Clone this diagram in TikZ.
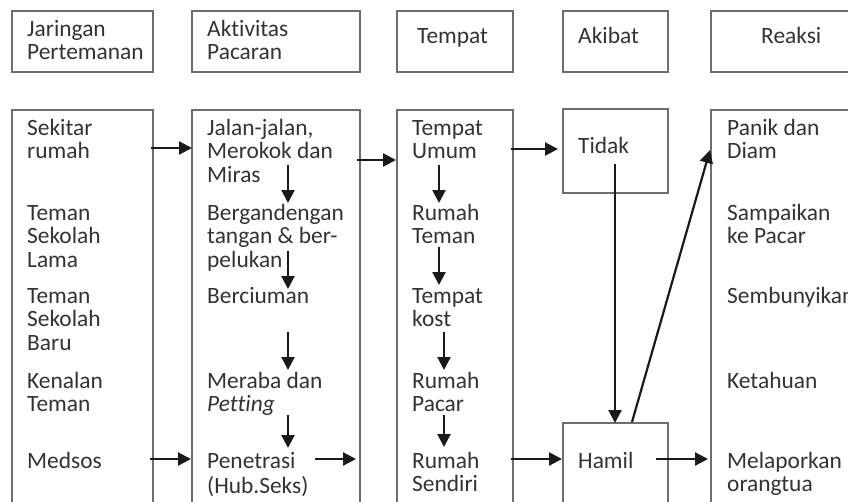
\documentclass[tikz,border=0pt]{standalone}
\usepackage{fontspec}
\setmainfont[Ligatures=NoCommon]{Carlito}
\usetikzlibrary{arrows.meta}
\newcommand\lbl{\fontsize{23.4}{23.5}\selectfont}
\definecolor{txtc}{HTML}{333333}
\definecolor{boxc}{HTML}{6E6E6E}
\definecolor{arrc}{HTML}{1A1A1A}
\begin{document}
\begin{tikzpicture}[x=1pt,y=-1pt,
  box/.style={draw=boxc, line width=1.3pt, anchor=north west, inner sep=0pt, outer sep=0pt},
  txt/.style={anchor=north west, inner sep=0pt, align=left, font=\lbl, text=txtc, yshift=16.45pt},
  arr/.style={draw=arrc, line width=2.2pt, -{Triangle[length=13pt,width=13pt]}}]
\useasboundingbox (0,0) rectangle (848,501);
\fill[white] (0,0) rectangle (848,501);
\clip (0,0) rectangle (848,501);
% header boxes
\node[box, minimum width=141pt, minimum height=61pt] (h1) at (12,11) {};
\node[box, minimum width=168pt, minimum height=61pt] (h2) at (192,11) {};
\node[box, minimum width=116pt, minimum height=61pt] (h3) at (397,11) {};
\node[box, minimum width=105pt, minimum height=61pt] (h4) at (563,11) {};
\node[box, minimum width=160pt, minimum height=61pt] (h5) at (711,11) {};
% lower boxes
\node[box, minimum width=141pt, minimum height=420pt] (b1) at (12,110) {};
\node[box, minimum width=168pt, minimum height=420pt] (b2) at (192,110) {};
\node[box, minimum width=116pt, minimum height=420pt] (b3) at (397,110) {};
\node[box, minimum width=105pt, minimum height=84pt] (tidakbox) at (563,109) {};
\node[box, minimum width=105pt, minimum height=100pt] (hamilbox) at (563,423) {};
\node[box, minimum width=160pt, minimum height=420pt] (b5) at (711,110) {};
% header texts
\node[txt] (ht1) at (27,36) {\strut Jaringan\\Pertemanan};
\node[txt] (ht2) at (207,36) {\strut Aktivitas\\Pacaran};
\node[txt] (ht3) at (417,43) {\strut Tempat};
\node[txt] (ht4) at (578,43) {\strut Akibat};
\node[txt] (ht5) at (761,43) {\strut Reaksi};
% column 1
\node[txt] (t11) at (27,135) {\strut Sekitar\\rumah};
\node[txt] (t12) at (27,220) {\strut Teman\\Sekolah\\Lama};
\node[txt] (t13) at (27,303) {\strut Teman\\Sekolah\\Baru};
\node[txt] (t14) at (27,388) {\strut Kenalan\\Teman};
\node[txt] (t15) at (27,468) {\strut Medsos};
% column 2
\node[txt] (t21) at (207,135) {\strut Jalan-jalan,\\Merokok dan\\Miras};
\node[txt] (t22) at (207,220) {\strut Bergandengan\\tangan \& ber-\\pelukan};
\node[txt] (t23) at (207,303) {\strut Berciuman};
\node[txt] (t24) at (207,388) {\strut Meraba dan\\\textit{Petting}};
\node[txt] (t25) at (207,468) {\strut Penetrasi\\(Hub.Seks)};
% column 3
\node[txt] (t31) at (412,135) {\strut Tempat\\Umum};
\node[txt] (t32) at (412,220) {\strut Rumah\\Teman};
\node[txt] (t33) at (412,303) {\strut Tempat\\kost};
\node[txt] (t34) at (412,388) {\strut Rumah\\Pacar};
\node[txt] (t35) at (412,468) {\strut Rumah\\Sendiri};
% column 4
\node[txt] (t41) at (578,153) {\strut Tidak};
\node[txt] (t42) at (578,468) {\strut Hamil};
% column 5
\node[txt] (t51) at (727,135) {\strut Panik dan\\Diam};
\node[txt] (t52) at (727,220) {\strut Sampaikan\\ke Pacar};
\node[txt] (t53) at (727,303) {\strut Sembunyikan};
\node[txt] (t54) at (727,388) {\strut Ketahuan};
\node[txt] (t55) at (727,468) {\strut Melaporkan\\orangtua};
% arrow coordinates
\coordinate (a1s) at (151,148); \coordinate (a1e) at (192,148);
\coordinate (a2s) at (357,160); \coordinate (a2e) at (396,160);
\coordinate (a3s) at (511,149); \coordinate (a3e) at (558,149);
\coordinate (a4s) at (150,459); \coordinate (a4e) at (191,459);
\coordinate (a5s) at (315,459); \coordinate (a5e) at (356,459);
\coordinate (a6s) at (511,459); \coordinate (a6e) at (562,459);
\coordinate (a7s) at (656,459); \coordinate (a7e) at (708,459);
\coordinate (d21s) at (288,165); \coordinate (d21e) at (288,203);
\coordinate (d22s) at (288,251); \coordinate (d22e) at (288,289);
\coordinate (d23s) at (288,332); \coordinate (d23e) at (288,370);
\coordinate (d24s) at (288,415); \coordinate (d24e) at (288,448);
\coordinate (d31s) at (439,165); \coordinate (d31e) at (439,203);
\coordinate (d32s) at (439,247); \coordinate (d32e) at (439,285);
\coordinate (d33s) at (444,332); \coordinate (d33e) at (444,370);
\coordinate (d34s) at (444,415); \coordinate (d34e) at (444,447);
\coordinate (tds) at (615,164);
\coordinate (diags) at (632,422); \coordinate (diage) at (710,150);
% arrows
\draw[arr] (a1s) -- (a1e);
\draw[arr] (a2s) -- (a2e);
\draw[arr] (a3s) -- (a3e);
\draw[arr] (a4s) -- (a4e);
\draw[arr] (a5s) -- (a5e);
\draw[arr] (a6s) -- (a6e);
\draw[arr] (a7s) -- (a7e);
\draw[arr] (d21s) -- (d21e);
\draw[arr] (d22s) -- (d22e);
\draw[arr] (d23s) -- (d23e);
\draw[arr] (d24s) -- (d24e);
\draw[arr] (d31s) -- (d31e);
\draw[arr] (d32s) -- (d32e);
\draw[arr] (d33s) -- (d33e);
\draw[arr] (d34s) -- (d34e);
\draw[arr] (tds) -- (tds |- hamilbox.north);
\draw[arr] (diags) -- (diage);
\end{tikzpicture}
\end{document}
